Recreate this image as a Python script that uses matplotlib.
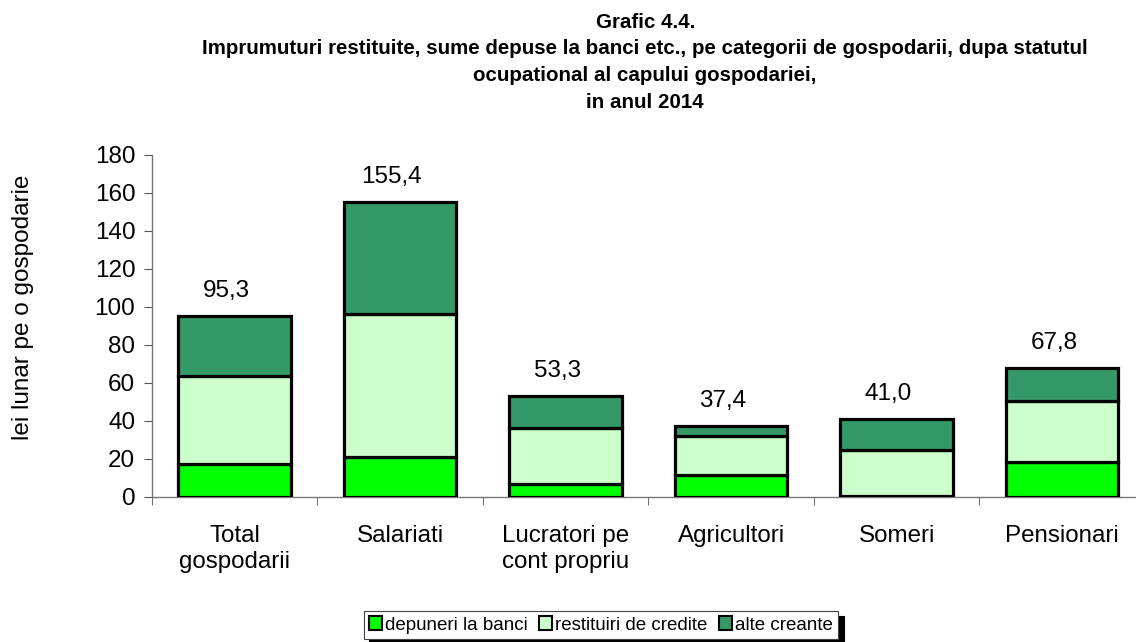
import matplotlib
matplotlib.use("Agg")
import matplotlib.pyplot as plt
import numpy as np

plt.rcParams["font.family"] = ["Liberation Sans", "DejaVu Sans"]

categories = ["Total\ngospodarii", "Salariati", "Lucratori pe\ncont propriu",
              "Agricultori", "Someri", "Pensionari"]
depuneri = [17.3, 20.9, 7.0, 11.5, 0.6, 18.3]
restituiri = [46.6, 75.4, 29.3, 20.4, 24.0, 32.0]
alte = [31.4, 59.1, 17.0, 5.5, 16.4, 17.5]
totals = [95.3, 155.4, 53.3, 37.4, 41.0, 67.8]

series = [
    ("depuneri la banci", depuneri, "#00FF00"),
    ("restituiri de credite", restituiri, "#CCFFCC"),
    ("alte creante", alte, "#339966"),
]

fig = plt.figure(figsize=(11.36, 6.42), dpi=100)
ax = fig.add_axes([0.1338, 0.2259, 0.874, 0.5327])

x = np.arange(len(categories))
bottom = np.zeros(len(categories))
for label, vals, color in series:
    ax.bar(x, vals, 0.68, bottom=bottom, color=color, edgecolor="black",
           linewidth=2.3, label=label, zorder=3)
    bottom += np.array(vals)

# totals above each stack, decimal comma
for xi, t in zip(x, totals):
    ax.annotate(f"{t:.1f}".replace(".", ","), (xi, t), xytext=(-6, 18),
                textcoords="offset points", ha="center", va="center", fontsize=17.5)

ax.set_xlim(-0.5, len(categories) - 0.5)
ax.set_ylim(0, 180)
ax.set_yticks(range(0, 181, 20))
ax.tick_params(axis="y", labelsize=17.5, direction="out", length=6, color="#555555", pad=6)
ax.set_xticks(x)
ax.set_xticklabels(categories, fontsize=17.4, linespacing=1.26)
ax.tick_params(axis="x", length=0, pad=20)
ax.set_xticks(np.arange(-0.5, len(categories)), minor=True)
ax.tick_params(axis="x", which="minor", direction="out", length=6, color="#555555")
for side in ("top", "right"):
    ax.spines[side].set_visible(False)
for side in ("left", "bottom"):
    ax.spines[side].set_color("#777777")
    ax.spines[side].set_linewidth(1.0)

fig.text(23 / 1136, 1 - 307 / 642, "lei lunar pe o gospodarie", rotation=90,
         ha="center", va="center", fontsize=17.5)

fig.text(0.568, 1 - 13 / 642, "Grafic 4.4.\nImprumuturi restituite, sume depuse la banci etc., pe categorii de gospodarii, dupa statutul\n"
         "ocupational al capului gospodariei,\nin anul 2014",
         ha="center", va="top", fontsize=14.8, fontweight="bold", linespacing=1.5)

leg = fig.legend(loc="center", bbox_to_anchor=(0.529, 1 - 625 / 642),
                 ncol=3, fontsize=13.5, frameon=True, fancybox=False,
                 shadow={"ox": 4, "oy": -4, "color": "black", "alpha": 1},
                 handlelength=0.7, handleheight=0.7, handletextpad=0.15, columnspacing=0.6,
                 borderpad=0.3, borderaxespad=0, edgecolor="#444444")
leg.get_frame().set_linewidth(0.8)
for h in leg.legend_handles:
    h.set_linewidth(1.5)

fig.savefig("out.png", dpi=100)
